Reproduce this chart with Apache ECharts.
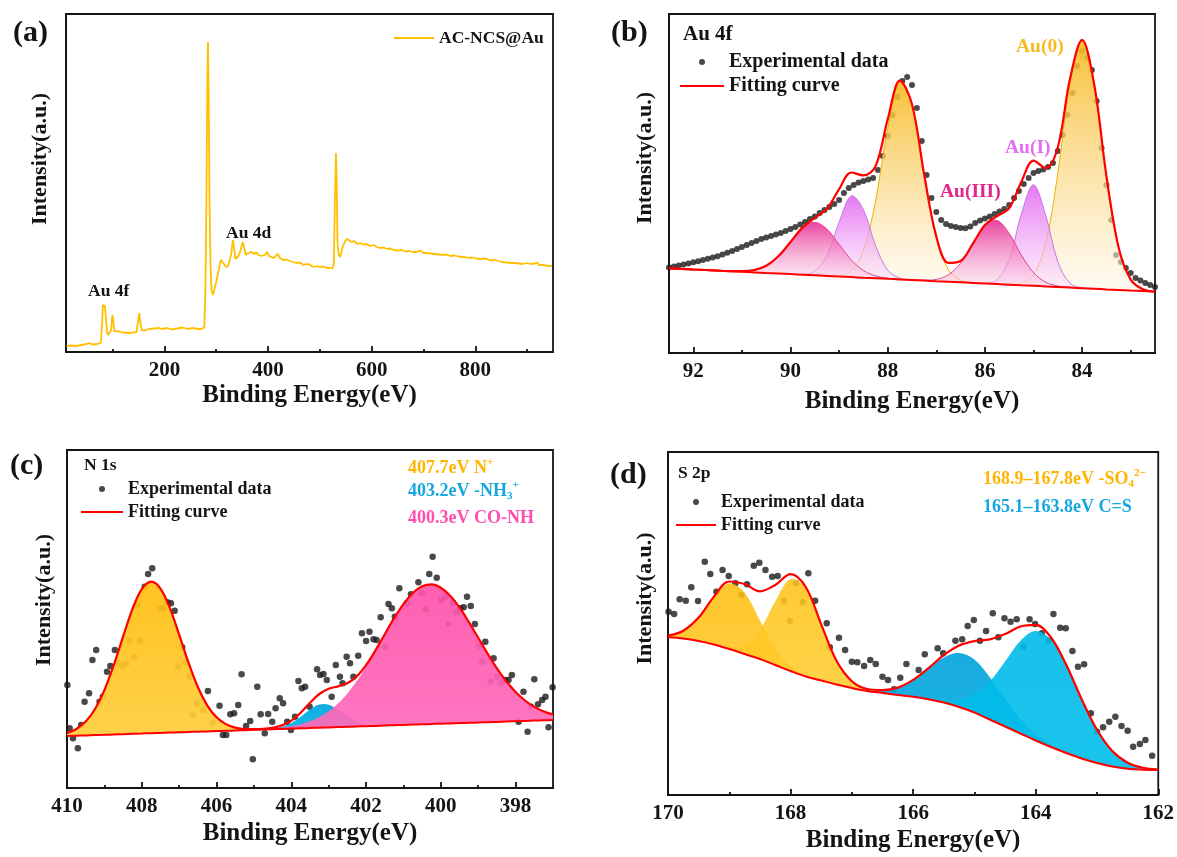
<!DOCTYPE html>
<html><head><meta charset="utf-8">
<script src="https://cdn.jsdelivr.net/npm/echarts@6/dist/echarts.min.js"></script>
<style>html,body{margin:0;padding:0;background:#fff}#c{width:1177px;height:857px}</style>
</head><body><div id="c"></div>
<script>
// ---------------- (a) survey spectrum ----------------
const surveySpectrum = [[11,6],[20,6.5],[30,6],[40,7],[50,8],[55,9],[60,7.5],[70,8],[77,9],[80,30],[81,47],[83,48],[85,46],[87,35],[89,20],[91,17],[94,18],[97,22],[99.5,37],[101,33],[103,21],[106,19],[112,20.5],[120,19.5],[130,19],[140,19.5],[146,20],[149,30],[151.5,39],[153,32],[156,22],[162,21.5],[170,23],[180,23.5],[190,24],[195,23],[205,24],[215,22.5],[225,23.5],[235,24.5],[245,23],[255,24],[265,23],[272,23],[277,25],[279,60],[281,150],[283,280],[284,310],[285.5,250],[287,150],[289,85],[291,62],[293.5,57],[296,62],[300,70],[303,78],[306,85],[309,92],[312,93],[315,88],[319,85],[323,86],[326,87],[329,98],[332,112],[334,105],[337,93],[340,94],[343,96],[346,100],[349,106],[351.5,110],[354,104],[357,97],[362,99],[368,100],[373,98],[377,99.5],[382,97],[387,96],[390,95],[394,97],[398,100],[402,96],[406,95],[410,94],[415,96],[419,98],[423,94],[429,92],[435,92.5],[442,91],[448,90],[455,89],[462,89.5],[468,87],[474,88],[480,87.5],[487,85],[494,86],[500,85],[507,85.5],[514,84],[520,84],[524,83.5],[527,88],[529,150],[531,199],[532.5,170],[534,110],[536,98],[538.7,95],[541,99],[544,105],[548,110],[551.6,113],[556,112],[561,110],[566,111],[572,108],[578,109],[584,107.5],[590,108],[597,106],[604,107],[610,105],[616,104],[623,104.5],[630,103],[636,103.5],[642,102],[650,101.5],[658,102],[665,100.5],[672,101],[680,100],[687,100],[694,101.5],[700,99],[706,99],[714,98.5],[722,98],[730,97.5],[738,97],[745,97.5],[752,96],[760,96.5],[768,95.5],[775,95],[780,95],[788,94],[795,94.5],[802,93.5],[810,93],[816,93.5],[822,93],[830,91.5],[838,92],[845,91],[852,90],[860,89.5],[868,89],[876,89],[884,88.5],[892,88],[900,89],[908,88],[915,88.5],[920,89.5],[923,87],[926,86],[930,87],[936,86.5],[942,86],[948,86]];
const surveyTickLabels = [200,400,600,800];
const surveyMinorTicks = [100,300,500,700,900];

// ---------------- (b) Au 4f ----------------
const au4fExperimental = [[92.5,85.5],[92.4,86.5],[92.3,87.5],[92.2,88.5],[92.1,89.5],[92.0,90.7],[91.9,91.8],[91.8,93],[91.7,94.3],[91.6,95.5],[91.5,96.8],[91.4,98.5],[91.3,100.3],[91.2,102],[91.1,104],[91.0,106],[90.9,108],[90.8,110],[90.7,112],[90.6,114],[90.5,115.5],[90.4,117],[90.3,118.5],[90.2,120],[90.1,122],[90.0,124],[89.9,126],[89.8,128.5],[89.7,131],[89.6,134],[89.5,136.5],[89.4,140],[89.3,143],[89.2,146],[89.1,149],[89.0,153],[88.9,160],[88.8,165],[88.7,168],[88.6,170.5],[88.5,172],[88.4,173.5],[88.3,175],[88.2,183],[88.1,197],[88.0,217],[87.9,238],[87.8,256],[87.7,272],[87.6,276],[87.5,268],[87.4,245],[87.3,212],[87.2,178],[87.1,155],[87.0,141],[86.9,133],[86.8,129],[86.7,127],[86.6,126],[86.5,125],[86.4,124.7],[86.3,126.5],[86.2,130],[86.1,132.5],[86.0,134.5],[85.9,136.5],[85.8,139],[85.7,141.5],[85.6,144],[85.5,148],[85.4,155],[85.3,162],[85.2,169],[85.1,175],[85.0,180],[84.9,182],[84.8,183.5],[84.7,186],[84.6,190],[84.5,202],[84.4,218],[84.3,238],[84.2,260],[84.1,287],[84.0,302],[83.9,295],[83.8,283],[83.7,252],[83.6,205],[83.5,168],[83.4,133],[83.3,98],[83.2,91],[83.1,85],[83.0,80],[82.9,75],[82.8,72.5],[82.7,70],[82.6,68],[82.5,66]];
const au4fGrid = [82.5,82.75,83,83.25,83.5,83.75,84,84.25,84.5,84.75,85,85.25,85.5,85.75,86,86.25,86.5,86.75,87,87.25,87.5,87.75,88,88.25,88.5,88.75,89,89.25,89.5,89.75,90,90.25,90.5,90.75,91,91.25,91.5,91.75,92,92.25,92.5];
const au4fBackground = [61.3,61.9,62.5,63.1,63.6,64.2,64.8,65.4,66.0,66.6,67.2,67.7,68.3,68.9,69.5,70.1,70.7,71.3,71.8,72.4,73.0,73.6,74.2,74.8,75.3,75.9,76.5,77.1,77.7,78.3,78.9,79.5,80.0,80.6,81.2,81.8,82.4,83.0,83.5,84.1,84.7];
const au0Peak72 = [0.2,1.9,10.9,42.7,113.6,204,248,204,113.6,42.7,10.9,1.9,0.2,0,0,0,0,0,0,0,0,0,0,0,0,0,0,0,0,0,0,0,0,0,0,0,0,0,0,0,0];
const au0Peak52 = [0,0,0,0,0,0,0,0,0,0,0,0,0,0,0,0.3,2.2,11.9,43,105.7,175.6,197.4,150.2,77.3,26.9,6.3,1.0,0.1,0,0,0,0,0,0,0,0,0,0,0,0,0];
const au1Peak72 = [0,0,0,0,0,0,0.4,4.4,25.2,71.4,101,71.4,25.2,4.4,0.4,0,0,0,0,0,0,0,0,0,0,0,0,0,0,0,0,0,0,0,0,0,0,0,0,0,0];
const au1Peak52 = [0,0,0,0,0,0,0,0,0,0,0,0,0,0,0,0,0,0,0,0,0.1,1.3,8.6,32.4,68.2,81.1,54.3,20.4,4.3,0.5,0,0,0,0,0,0,0,0,0,0,0];
const au3Peak72 = [0,0,0,0,0,0,0,0.2,1.0,4.2,13.2,30.3,51.3,63.6,58.0,38.8,19.1,6.9,1.8,0.4,0,0,0,0,0,0,0,0,0,0,0,0,0,0,0,0,0,0,0,0,0];
const au3Peak52 = [0,0,0,0,0,0,0,0,0,0,0,0,0,0,0,0,0,0,0,0,0,0.1,0.6,2.3,7.2,17.2,32.1,46.8,53,46.8,32.1,17.2,7.2,2.3,0.6,0.1,0,0,0,0,0];
const au4fFit = [61.5,63.8,73.4,105.8,177.2,268.2,313.2,274.0,205.8,184.9,192.3,171.3,145.0,136.9,127.9,109.2,92.0,90.1,116.6,178.5,248.7,272.4,233.6,186.8,177.6,180.5,163.9,144.4,135.0,125.6,111.0,96.7,87.2,82.9,81.8,81.9,82.4,83.0,83.5,84.1,84.7];
const au4fTickLabels = [84,86,88,90,92];
const au4fMinorTicks = [83,85,87,89,91];

// ---------------- (c) N 1s ----------------
const n1sExperimental = [[409.99,103],[409.93,59.7],[409.84,49.7],[409.71,39.7],[409.62,63],[409.53,86.3],[409.41,94.7],[409.32,128],[409.22,138],[409.13,86.3],[409.04,91.3],[408.93,116.3],[408.84,122],[408.72,138],[408.63,124.7],[408.52,122],[408.41,124.7],[408.32,147.3],[408.21,130.7],[408.13,183],[408.04,147.3],[407.92,201.3],[407.83,214],[407.72,219.7],[407.52,179.7],[407.43,179.7],[407.32,185.7],[407.22,184.7],[407.12,177.3],[407.03,121.3],[406.92,140.7],[406.83,126.3],[406.72,111.3],[406.63,73],[406.52,84.7],[406.36,78],[406.23,97],[406.10,65.3],[405.92,82.3],[405.83,53],[405.74,53],[405.63,73.7],[405.53,74.7],[405.42,83],[405.33,113.7],[405.21,62],[405.10,67],[405.03,28.7],[404.91,101.3],[404.82,73.7],[404.71,54.7],[404.62,74],[404.51,66.3],[404.42,79.7],[404.31,89.7],[404.22,84.7],[404.11,66.3],[404.01,58],[403.90,71.3],[403.81,107],[403.72,99.7],[403.63,101.3],[403.51,81.3],[403.31,118.7],[403.23,113],[403.14,114],[403.05,108],[402.92,91.3],[402.81,123],[402.70,111.3],[402.63,104.7],[402.52,131.3],[402.43,124.7],[402.34,111.3],[402.21,132.3],[402.11,154.7],[402.00,147],[401.91,156.3],[401.80,148.7],[401.72,148],[401.61,170.7],[401.49,141.3],[401.40,184],[401.31,179.7],[401.23,171.3],[401.11,199.7],[400.91,184.7],[400.80,193.7],[400.60,205.7],[400.51,194.7],[400.40,178.7],[400.31,214],[400.22,231.3],[400.11,210.3],[399.99,188],[399.88,191.3],[399.80,164],[399.68,184.7],[399.57,176.3],[399.48,179.7],[399.39,180.7],[399.30,191.3],[399.20,182],[399.09,164],[398.99,142],[398.90,126.3],[398.81,146.3],[398.67,106.3],[398.59,129.7],[398.50,111.3],[398.39,104.7],[398.28,108],[398.19,108],[398.10,113],[397.92,66.3],[397.79,96.3],[397.68,56.3],[397.59,81.3],[397.50,108.7],[397.40,83.7],[397.29,88],[397.20,91.3],[397.12,60.7],[397.01,100.7]];
const n1sGrid = [397,397.25,397.5,397.75,398,398.25,398.5,398.75,399,399.25,399.5,399.75,400,400.25,400.5,400.75,401,401.25,401.5,401.75,402,402.25,402.5,402.75,403,403.25,403.5,403.75,404,404.25,404.5,404.75,405,405.25,405.5,405.75,406,406.25,406.5,406.75,407,407.25,407.5,407.75,408,408.25,408.5,408.75,409,409.25,409.5,409.75,410];
const n1sBackground = [68.0,67.7,67.4,67.1,66.8,66.5,66.1,65.8,65.5,65.2,64.9,64.6,64.3,64.0,63.7,63.4,63.1,62.8,62.5,62.1,61.8,61.5,61.2,60.9,60.6,60.3,60.0,59.7,59.4,59.1,58.8,58.5,58.2,57.8,57.5,57.2,56.9,56.6,56.3,56.0,55.7,55.4,55.1,54.8,54.5,54.2,53.8,53.5,53.2,52.9,52.6,52.3,52.0];
const n1sCONH = [5.6,8.9,13.7,20.4,29.2,40.2,53.5,68.6,84.7,100.7,115.7,127.7,136.0,139.6,138.0,131.6,120.8,107.0,91.2,75.0,59.4,45.4,33.4,23.6,16.1,10.6,6.7,4.1,2.4,1.4,0.8,0.4,0.2,0,0,0,0,0,0,0,0,0,0,0,0,0,0,0,0,0,0,0,0];
const n1sNH3 = [0,0,0,0,0,0,0,0,0,0,0,0,0,0,0,0,0,0,0.1,0.5,1.7,4.7,10.1,17.1,22.6,23.1,18.5,11.5,5.6,2.1,0.6,0.1,0,0,0,0,0,0,0,0,0,0,0,0,0,0,0,0,0,0,0,0,0];
const n1sNplus = [0,0,0,0,0,0,0,0,0,0,0,0,0,0,0,0,0,0,0,0,0,0,0,0,0,0,0,0,0,0,0,0.1,0.4,1.1,2.9,6.7,13.8,26.1,44.7,69.4,97.6,124.7,144.3,151.5,144.3,124.7,97.6,69.4,44.7,26.1,13.8,6.7,2.9];
const n1sFit = [73.6,76.6,81.1,87.5,96.0,106.7,119.6,134.4,150.2,165.9,180.6,192.3,200.3,203.6,201.7,195.0,183.9,169.8,153.8,137.6,122.9,111.6,104.7,101.6,99.3,94.0,85.2,75.3,67.4,62.6,60.2,59.1,58.8,58.9,60.4,63.9,70.7,82.7,101.0,125.4,153.3,180.1,199.4,206.3,198.8,178.9,151.4,122.9,97.9,79.0,66.4,59.0,54.9];
const n1sTickLabels = [398,400,402,404,406,408,410];
const n1sMinorTicks = [399,401,403,405,407,409];

// ---------------- (d) S 2p ----------------
const s2pExperimental = [[169.99,183.3],[169.90,181],[169.81,195.7],[169.71,194.3],[169.62,207.7],[169.51,194],[169.40,233.3],[169.31,221],[169.21,203.3],[169.11,225],[169.01,219],[168.90,211.7],[168.80,200],[168.71,210.7],[168.60,229.3],[168.51,232.3],[168.41,225],[168.30,218.3],[168.21,219],[168.11,194.3],[168.01,174],[167.91,211.7],[167.80,192.7],[167.71,221.7],[167.60,194.3],[167.41,171.7],[167.36,147.7],[167.21,157.3],[167.11,145],[167.00,133.3],[166.91,132.7],[166.80,129],[166.70,135],[166.61,131],[166.50,118.3],[166.41,115],[166.31,105.7],[166.21,117.3],[166.11,131],[165.91,125],[165.81,140.7],[165.60,146.7],[165.51,141.7],[165.31,154.3],[165.20,155.7],[165.11,169],[165.01,175],[164.91,154.3],[164.81,164],[164.70,181.7],[164.61,157.7],[164.51,176.7],[164.41,173.3],[164.31,175.7],[164.20,148.3],[164.10,175.7],[164.01,171],[163.90,161.7],[163.79,154.3],[163.71,181],[163.60,167.3],[163.51,166.7],[163.40,144],[163.31,128.3],[163.21,130.7],[163.10,81.7],[163.00,63.3],[162.90,67.7],[162.80,73.3],[162.70,78.3],[162.60,69],[162.50,64.3],[162.41,48.3],[162.30,51],[162.21,55],[162.10,39.3]];
const s2pGrid = [162,162.25,162.5,162.75,163,163.25,163.5,163.75,164,164.25,164.5,164.75,165,165.25,165.5,165.75,166,166.25,166.5,166.75,167,167.25,167.5,167.75,168,168.25,168.5,168.75,169,169.25,169.5,169.75,170];
const s2pBackground = [25,25.3,26.3,28.5,32,36.5,42,48,54.5,61.5,68.5,75.5,82.5,88,92.5,95.8,98.2,100,102,104,107,110.5,114.5,118.5,124,130,136,141,146,150.5,154,156.5,157.7];
const s2pCS2 = [0.5,1.9,6.0,15.5,33.3,59.2,87.4,107.3,109.4,92.6,65.0,37.9,18.4,7.4,2.5,0.7,0.2,0,0,0,0,0,0,0,0,0,0,0,0,0,0,0,0];
const s2pCS1 = [0,0,0,0,0,0.1,0.6,2.2,6.2,14.4,27.4,42.2,53.0,54.1,44.9,30.3,16.7,7.4,2.7,0.8,0.2,0,0,0,0,0,0,0,0,0,0,0,0];
const s2pSO4b = [0,0,0,0,0,0,0,0,0,0,0,0,0,0,0,0,0,0,0.2,1.2,6.6,23.7,56.1,88.3,92.0,63.5,29.1,8.8,1.8,0.2,0,0,0];
const s2pSO4a = [0,0,0,0,0,0,0,0,0,0,0,0,0,0,0,0,0,0,0,0,0,0,0.1,0.9,4.8,16.5,38.6,61.2,65.7,47.7,23.4,7.8,1.7];
const s2pFit = [25.5,27.2,32.3,44.0,65.3,95.8,130.0,157.5,170.1,168.5,160.9,155.6,153.9,149.5,139.9,126.8,115.1,107.4,104.9,106.0,113.8,134.2,170.7,207.7,220.8,210.0,203.7,211.0,213.5,198.4,177.4,164.3,159.4];
const s2pTickLabels = [162,164,166,168,170];
const s2pMinorTicks = [163,165,167,169];

// ---------------- chart ----------------
const FONT = '"Liberation Serif","Times New Roman",serif';
const INK = '#141414';
const zip = (xs, ys) => xs.map((x, i) => [x, ys[i]]);
const grad = (c1, c2) => new echarts.graphic.LinearGradient(0, 0, 0, 1, [{offset: 0, color: c1}, {offset: 1, color: c2}]);

const grids = [
  {left: 66, top: 14, width: 487, height: 338},
  {left: 669, top: 14, width: 486, height: 339},
  {left: 67, top: 450, width: 486, height: 338},
  {left: 668, top: 452, width: 491, height: 343}
].map(g => Object.assign(g, {show: true, borderColor: INK, borderWidth: 1.8, backgroundColor: 'transparent'}));

const axLine = {color: INK, width: 1.8};
function xMain(gi, min, max, inverse, labels, gap) {
  return {type: 'value', gridIndex: gi, min, max, inverse, position: 'bottom',
    axisLine: {show: true, onZero: false, lineStyle: axLine},
    axisTick: {show: true, inside: true, length: 6, customValues: labels, lineStyle: axLine},
    axisLabel: {show: true, customValues: labels, margin: 8, fontSize: 21, fontWeight: 'bold', fontFamily: FONT, color: INK},
    splitLine: {show: false},
    name: 'Binding Energy(eV)', nameLocation: 'middle', nameGap: gap,
    nameTextStyle: {fontSize: 25, fontWeight: 'bold', fontFamily: FONT, color: INK}};
}
function xMinor(gi, min, max, inverse, minors) {
  return {type: 'value', gridIndex: gi, min, max, inverse, position: 'bottom',
    axisLine: {show: false, onZero: false},
    axisTick: {show: true, inside: true, length: 3, customValues: minors, lineStyle: axLine},
    axisLabel: {show: false}, splitLine: {show: false}};
}
function yAx(gi, max, gap, shift) {
  return {type: 'value', gridIndex: gi, min: 0, max,
    axisLine: {show: true, lineStyle: axLine}, axisTick: {show: false}, axisLabel: {show: false}, splitLine: {show: false},
    name: 'Intensity(a.u.)', nameLocation: 'middle', nameGap: gap,
    nameTextStyle: {fontSize: 22, fontWeight: 'bold', fontFamily: FONT, color: INK, padding: [0, 0, 0, shift]}};
}

const series = [];
// fitted component: filled between background and background+peak, placed by the axes (api.coord)
function component(gi, name, xs, base, vals, fill, line, z) {
  let lo = vals.findIndex(v => v > 0);
  let hi = vals.length - 1; while (hi > 0 && !(vals[hi] > 0)) hi--;
  lo = Math.max(0, lo - 1); hi = Math.min(vals.length - 1, hi + 1);
  series.push({type: 'custom', name, coordinateSystem: 'cartesian2d', xAxisIndex: gi, yAxisIndex: gi,
    data: [[xs[lo], base[lo]]], silent: true, z, clip: true,
    renderItem: function (params, api) {
      const top = [], bot = [];
      for (let i = lo; i <= hi; i++) {
        top.push(api.coord([xs[i], base[i] + vals[i]]));
        bot.push(api.coord([xs[i], base[i]]));
      }
      const children = [{type: 'polygon', shape: {points: top.concat(bot.slice().reverse()), smooth: 0.35}, style: {fill: fill, stroke: null}}];
      if (line) children.push({type: 'polyline', shape: {points: top, smooth: 0.35}, style: {stroke: line, lineWidth: 1, fill: null}});
      return {type: 'group', children};
    }});
}
function redLine(gi, name, xs, ys, z, w) {
  series.push({type: 'line', name, xAxisIndex: gi, yAxisIndex: gi, data: zip(xs, ys), symbol: 'none',
    smooth: 0.35, lineStyle: {color: '#ff0000', width: w}, itemStyle: {color: '#ff0000'}, silent: true, z});
}
function dots(gi, data, size) {
  series.push({type: 'scatter', name: 'Experimental data', xAxisIndex: gi, yAxisIndex: gi, data,
    symbolSize: size, itemStyle: {color: '#1c1c1c'}, silent: true, z: 2});
}

// (a)
series.push({type: 'line', name: 'AC-NCS@Au', xAxisIndex: 0, yAxisIndex: 0, data: surveySpectrum, symbol: 'none',
  lineStyle: {color: '#FFC000', width: 1.8}, itemStyle: {color: '#FFC000'}, z: 3});

// (b)
dots(1, au4fExperimental, 6);
const au0Fill = () => grad('rgba(246,184,30,0.9)', 'rgba(255,247,230,0.55)');
const au1Fill = () => grad('rgba(226,96,240,0.85)', 'rgba(250,226,252,0.55)');
const au3Fill = () => grad('rgba(232,48,150,0.9)', 'rgba(252,222,238,0.55)');
component(1, 'Au(0) 4f7/2', au4fGrid, au4fBackground, au0Peak72, au0Fill(), '#f0b000', 3);
component(1, 'Au(0) 4f5/2', au4fGrid, au4fBackground, au0Peak52, au0Fill(), '#f0b000', 3);
component(1, 'Au(I) 4f7/2', au4fGrid, au4fBackground, au1Peak72, au1Fill(), '#c27ae0', 3);
component(1, 'Au(I) 4f5/2', au4fGrid, au4fBackground, au1Peak52, au1Fill(), '#c27ae0', 3);
component(1, 'Au(III) 4f7/2', au4fGrid, au4fBackground, au3Peak72, au3Fill(), '#e0449a', 3);
component(1, 'Au(III) 4f5/2', au4fGrid, au4fBackground, au3Peak52, au3Fill(), '#e0449a', 3);
redLine(1, 'Background', au4fGrid, au4fBackground, 5, 2);
redLine(1, 'Fitting curve', au4fGrid, au4fFit, 6, 2.2);

// (c)
dots(2, n1sExperimental, 6.5);
component(2, '407.7eV N+', n1sGrid, n1sBackground, n1sNplus, grad('rgba(255,190,16,0.93)', 'rgba(255,206,60,0.93)'), null, 3);
component(2, '403.2eV -NH3+', n1sGrid, n1sBackground, n1sNH3, grad('rgba(0,164,222,0.93)', 'rgba(0,184,232,0.93)'), null, 3);
component(2, '400.3eV CO-NH', n1sGrid, n1sBackground, n1sCONH, grad('rgba(255,82,170,0.92)', 'rgba(255,106,186,0.92)'), null, 3);
redLine(2, 'Background', n1sGrid, n1sBackground, 5, 2);
redLine(2, 'Fitting curve', n1sGrid, n1sFit, 6, 2.2);

// (d)
dots(3, s2pExperimental, 6.5);
component(3, 'SO4 a', s2pGrid, s2pBackground, s2pSO4a, grad('rgba(255,190,14,0.88)', 'rgba(255,200,40,0.88)'), null, 3);
component(3, 'SO4 b', s2pGrid, s2pBackground, s2pSO4b, grad('rgba(255,196,24,0.88)', 'rgba(255,204,48,0.88)'), null, 3);
component(3, 'C=S a', s2pGrid, s2pBackground, s2pCS1, grad('rgba(0,162,218,0.9)', 'rgba(0,174,226,0.9)'), null, 3);
component(3, 'C=S b', s2pGrid, s2pBackground, s2pCS2, grad('rgba(0,186,232,0.9)', 'rgba(0,190,234,0.9)'), null, 3);
redLine(3, 'Background', s2pGrid, s2pBackground, 5, 2);
redLine(3, 'Fitting curve', s2pGrid, s2pFit, 6, 2.2);

const legendText = (size) => ({fontSize: size, fontWeight: 'bold', fontFamily: FONT, color: INK});
const lineItem = (name) => ({name, itemStyle: {opacity: 0}});
const legends = [
  {data: [lineItem('AC-NCS@Au')], left: 393, top: 29, padding: 0, itemWidth: 40, itemHeight: 12, textStyle: legendText(17.5), selectedMode: false},
  {data: ['Experimental data', lineItem('Fitting curve')], orient: 'vertical', left: 679, top: 52, padding: 0, itemWidth: 44, itemHeight: 6, itemGap: 4, textStyle: legendText(20), selectedMode: false},
  {data: ['Experimental data', lineItem('Fitting curve')], orient: 'vertical', left: 80, top: 480, padding: 0, itemWidth: 42, itemHeight: 6, itemGap: 5, textStyle: legendText(18), selectedMode: false},
  {data: ['Experimental data', lineItem('Fitting curve')], orient: 'vertical', left: 675, top: 493, padding: 0, itemWidth: 40, itemHeight: 6, itemGap: 5, textStyle: legendText(18), selectedMode: false}
];

function txt(x, y, text, size, color) {
  return {type: 'text', x, y, silent: true, z: 100,
    style: {text, fontSize: size, fontWeight: 'bold', fontFamily: FONT, fill: color, align: 'left', verticalAlign: 'middle'}};
}
function richTxt(x, y, parts, size, color) {
  const small = Math.round(size * 0.6);
  const rich = {
    n: {fontSize: size, fontWeight: 'bold', fontFamily: FONT, fill: color, lineHeight: size + 4},
    sup: {fontSize: small, fontWeight: 'bold', fontFamily: FONT, fill: color, verticalAlign: 'top', lineHeight: small},
    sub: {fontSize: small, fontWeight: 'bold', fontFamily: FONT, fill: color, verticalAlign: 'bottom', lineHeight: small}
  };
  return {type: 'text', x, y, silent: true, z: 100,
    style: {text: parts.map(p => '{' + p[0] + '|' + p[1] + '}').join(''), rich, align: 'left', verticalAlign: 'middle'}};
}

const graphics = [
  txt(13, 33, '(a)', 30, INK), txt(611, 33, '(b)', 30, INK), txt(10, 466, '(c)', 30, INK), txt(610, 475, '(d)', 30, INK),
  txt(88, 291, 'Au 4f', 17.5, INK), txt(226, 233, 'Au 4d', 17.5, INK),
  txt(683, 35, 'Au 4f', 21, INK),
  txt(1016, 47, 'Au(0)', 19.5, '#f5bb22'), txt(1005, 148, 'Au(I)', 19.5, '#e46ef0'), txt(940, 192, 'Au(III)', 19.5, '#e3268c'),
  txt(84, 465, 'N 1s', 17.5, INK), txt(678, 473, 'S 2p', 17.5, INK),
  richTxt(408, 468, [['n', '407.7eV N'], ['sup', '+']], 18, '#ffb400'),
  richTxt(408, 491, [['n', '403.2eV -NH'], ['sub', '3'], ['sup', '+']], 18, '#15a6df'),
  richTxt(408, 518, [['n', '400.3eV CO-NH']], 18, '#ff4daf'),
  richTxt(983, 479, [['n', '168.9\u2013167.8eV -SO'], ['sub', '4'], ['sup', '2\u2212']], 18, '#ffb400'),
  richTxt(983, 507, [['n', '165.1\u2013163.8eV C=S']], 18, '#15a6df')
];

const option = {
  animation: false,
  backgroundColor: '#ffffff',
  grid: grids,
  xAxis: [
    xMain(0, 10, 950, false, surveyTickLabels, 31),
    xMain(1, 82.5, 92.5, true, au4fTickLabels, 36),
    xMain(2, 397, 410, true, n1sTickLabels, 33),
    xMain(3, 162, 170, true, s2pTickLabels, 33),
    xMinor(0, 10, 950, false, surveyMinorTicks),
    xMinor(1, 82.5, 92.5, true, au4fMinorTicks),
    xMinor(2, 397, 410, true, n1sMinorTicks),
    xMinor(3, 162, 170, true, s2pMinorTicks)
  ],
  yAxis: [yAx(0, 338, 15, 48), yAx(1, 339, 13, 51), yAx(2, 338, 12, 38), yAx(3, 343, 12, 50)],
  legend: legends,
  series,
  graphic: graphics
};
const chart = echarts.init(document.getElementById('c'), null, {renderer: 'canvas'});
chart.setOption(option);
</script></body></html>
